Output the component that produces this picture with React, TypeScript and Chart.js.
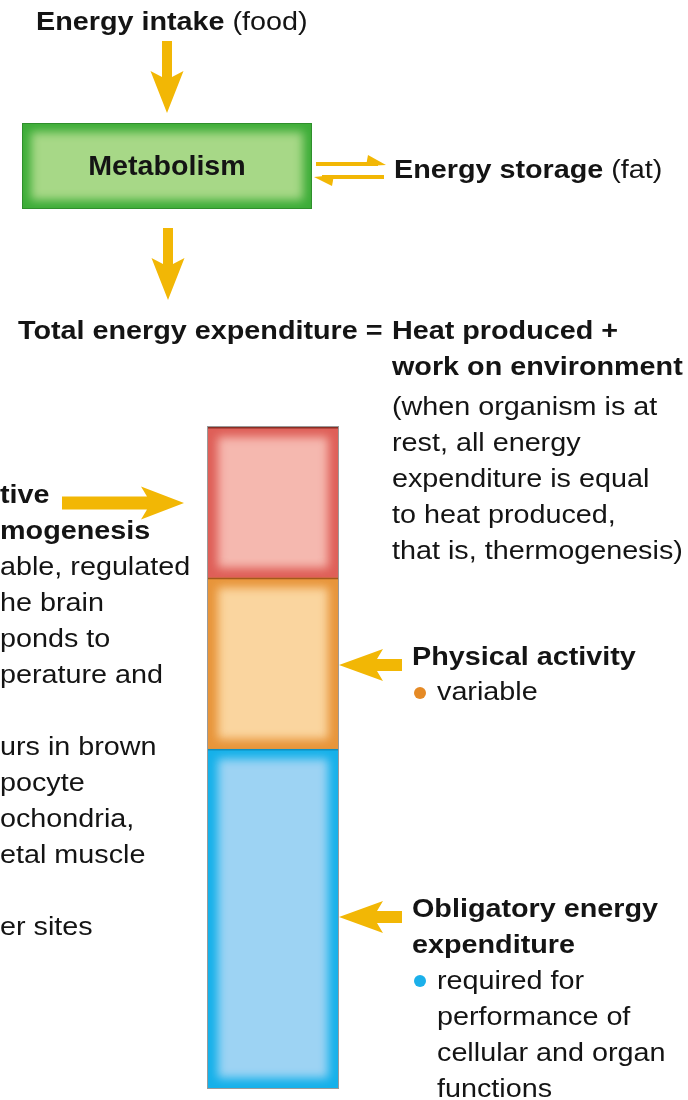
import React, { useEffect, useRef } from "react";
import { Chart, registerables } from "chart.js";

Chart.register(...registerables);

// ---- data ----
const categories = ["Total energy expenditure"];
const segmentNames = ["Obligatory energy expenditure", "Physical activity", "Adaptive thermogenesis"];
const obligatoryValues = [51.3];
const physicalValues = [25.9];
const adaptiveValues = [22.8];
const yRange = [0, 100];

const leftLines = [
  "tive",
  "mogenesis",
  "able, regulated",
  "he brain",
  "ponds to",
  "perature and",
  "",
  "urs in brown",
  "pocyte",
  "ochondria,",
  "etal muscle",
  "",
  "er sites",
];
const restLines = [
  "(when organism is at",
  "rest, all energy",
  "expenditure is equal",
  "to heat produced,",
  "that is, thermogenesis)",
];
const obligatoryLines = ["required for", "performance of", "cellular and organ", "functions"];

// ---- styles ----
const FONT = '"Liberation Sans", Arial, Helvetica, sans-serif';
const SX = 1.15;
const FS = 25;
const ARROW = "#F2B705";
const edgeColors = ["#15B1EA", "#E8953A", "#DF5F58"];
const innerColors = ["#9DD3F3", "#FAD59F", "#F5B8AF"];
const sepColors = ["#0E8FC0", "#A2581C", "#8A2E24"];

function txt(ctx: CanvasRenderingContext2D, s: string, x: number, y: number, size: number, bold: boolean, sx = SX, color = "#141414") {
  ctx.save();
  ctx.font = `${bold ? "bold " : ""}${size}px ${FONT}`;
  ctx.fillStyle = color;
  ctx.textAlign = "left";
  ctx.textBaseline = "alphabetic";
  ctx.translate(x, y);
  ctx.scale(sx, 1);
  ctx.fillText(s, 0, 0);
  const w = ctx.measureText(s).width * sx;
  ctx.restore();
  return w;
}

function arrow(ctx: CanvasRenderingContext2D, x1: number, y1: number, x2: number, y2: number, shaft: number, headW: number, headL: number) {
  const dx = x2 - x1, dy = y2 - y1;
  const len = Math.hypot(dx, dy);
  const ux = dx / len, uy = dy / len;
  const px = -uy, py = ux;
  const bx = x2 - ux * headL, by = y2 - uy * headL;
  const sweep = 6;
  ctx.save();
  ctx.fillStyle = ARROW;
  ctx.beginPath();
  ctx.moveTo(x1 + px * shaft / 2, y1 + py * shaft / 2);
  ctx.lineTo(bx + px * shaft / 2, by + py * shaft / 2);
  ctx.lineTo(bx - ux * sweep + px * headW / 2, by - uy * sweep + py * headW / 2);
  ctx.lineTo(x2, y2);
  ctx.lineTo(bx - ux * sweep - px * headW / 2, by - uy * sweep - py * headW / 2);
  ctx.lineTo(bx - px * shaft / 2, by - py * shaft / 2);
  ctx.lineTo(x1 - px * shaft / 2, y1 - py * shaft / 2);
  ctx.closePath();
  ctx.fill();
  ctx.restore();
}

function bevelRect(ctx: CanvasRenderingContext2D, l: number, t: number, w: number, h: number, edge: string, inner: string, inset: number) {
  ctx.save();
  ctx.beginPath();
  ctx.rect(l, t, w, h);
  ctx.clip();
  ctx.fillStyle = edge;
  ctx.fillRect(l, t, w, h);
  ctx.filter = "blur(5px)";
  ctx.fillStyle = inner;
  ctx.fillRect(l + inset, t + inset, w - 2 * inset, h - 2 * inset);
  ctx.restore();
}

const diagramPlugin = {
  id: "diagram",
  beforeDatasetsDraw(chart: any) {
    const ctx: CanvasRenderingContext2D = chart.ctx;
    // top block
    const w1 = txt(ctx, "Energy intake", 36, 30, FS, true);
    txt(ctx, " (food)", 36 + w1, 30, FS, false);
    arrow(ctx, 167, 41, 167, 113, 10, 33, 36);

    // metabolism box
    bevelRect(ctx, 22, 123, 290, 86, "#3DAD38", "#A7D887", 9);
    ctx.save();
    ctx.strokeStyle = "#2F8F2C";
    ctx.lineWidth = 1;
    ctx.strokeRect(22.5, 123.5, 289, 85);
    ctx.font = `bold 27px ${FONT}`;
    const mw = ctx.measureText("Metabolism").width * 1.06;
    ctx.restore();
    txt(ctx, "Metabolism", 167 - mw / 2, 175, 27, true, 1.06);

    // harpoon arrows
    ctx.save();
    ctx.fillStyle = ARROW;
    ctx.fillRect(316, 162, 62, 4);
    ctx.beginPath();
    ctx.moveTo(368, 155);
    ctx.lineTo(386, 165);
    ctx.lineTo(366, 166);
    ctx.closePath();
    ctx.fill();
    ctx.fillRect(322, 175, 62, 4);
    ctx.beginPath();
    ctx.moveTo(332, 186);
    ctx.lineTo(314, 177);
    ctx.lineTo(334, 175);
    ctx.closePath();
    ctx.fill();
    ctx.restore();
    const w2 = txt(ctx, "Energy storage", 394, 178, FS, true);
    txt(ctx, " (fat)", 394 + w2, 178, FS, false);

    arrow(ctx, 168, 228, 168, 300, 10, 33, 36);

    txt(ctx, "Total energy expenditure =", 18, 339, FS, true);
    txt(ctx, "Heat produced +", 392, 339, FS, true);
    txt(ctx, "work on environment", 392, 375, FS, true);
    restLines.forEach((s, i) => txt(ctx, s, 392, 415 + i * 36, FS, false));

    leftLines.forEach((s, i) => {
      if (s) txt(ctx, s, 0, 503 + i * 36, FS, i < 2);
    });
    arrow(ctx, 62, 503, 184, 503, 13, 33, 37);

    arrow(ctx, 402, 665, 339, 665, 12, 32, 38);
    txt(ctx, "Physical activity", 412, 665, FS, true);
    ctx.save();
    ctx.fillStyle = "#E58A25";
    ctx.beginPath();
    ctx.arc(420, 693, 6, 0, Math.PI * 2);
    ctx.fill();
    ctx.restore();
    txt(ctx, "variable", 437, 700, FS, false);

    arrow(ctx, 402, 917, 339, 917, 12, 32, 38);
    txt(ctx, "Obligatory energy", 412, 917, FS, true);
    txt(ctx, "expenditure", 412, 953, FS, true);
    ctx.save();
    ctx.fillStyle = "#1BB0EA";
    ctx.beginPath();
    ctx.arc(420, 981, 6, 0, Math.PI * 2);
    ctx.fill();
    ctx.restore();
    obligatoryLines.forEach((s, i) => txt(ctx, s, 437, 989 + i * 36, FS, false));
  },
  afterDatasetsDraw(chart: any) {
    const ctx: CanvasRenderingContext2D = chart.ctx;
    const boxes: any[] = [];
    chart.data.datasets.forEach((_: any, i: number) => {
      const meta = chart.getDatasetMeta(i);
      meta.data.forEach((el: any) => {
        const p = el.getProps(["x", "y", "base", "width"], true);
        const l = p.x - p.width / 2;
        const t = Math.min(p.y, p.base);
        const h = Math.abs(p.base - p.y);
        bevelRect(ctx, l, t, p.width, h, edgeColors[i], innerColors[i], 10);
        boxes.push({ l, t, w: p.width, h, i });
      });
    });
    ctx.save();
    boxes.forEach((b) => {
      ctx.strokeStyle = sepColors[b.i];
      ctx.lineWidth = 1.5;
      ctx.beginPath();
      ctx.moveTo(b.l, b.t + 0.75);
      ctx.lineTo(b.l + b.w, b.t + 0.75);
      ctx.stroke();
    });
    if (boxes.length) {
      const l = boxes[0].l;
      const w = boxes[0].w;
      const top = Math.min(...boxes.map((b) => b.t));
      const bottom = Math.max(...boxes.map((b) => b.t + b.h));
      ctx.strokeStyle = "#9a9a9a";
      ctx.lineWidth = 1;
      ctx.strokeRect(l - 0.5, top - 0.5, w + 1, bottom - top + 1);
    }
    ctx.restore();
  },
};

export default function App() {
  const ref = useRef<HTMLCanvasElement | null>(null);
  useEffect(() => {
    document.body.style.margin = "0";
    document.body.style.background = "#ffffff";
    if (!ref.current) return;
    const chart = new Chart(ref.current, {
      type: "bar",
      data: {
        labels: categories,
        datasets: [
          { label: segmentNames[0], data: obligatoryValues, backgroundColor: edgeColors[0], borderWidth: 0 },
          { label: segmentNames[1], data: physicalValues, backgroundColor: edgeColors[1], borderWidth: 0 },
          { label: segmentNames[2], data: adaptiveValues, backgroundColor: edgeColors[2], borderWidth: 0 },
        ],
      },
      options: {
        responsive: false,
        animation: false,
        layout: { padding: { left: 208, right: 350, top: 427, bottom: 12 } },
        plugins: { legend: { display: false }, tooltip: { enabled: false } },
        datasets: { bar: { barPercentage: 1, categoryPercentage: 1 } },
        scales: {
          x: { display: false, stacked: true },
          y: { display: false, stacked: true, min: yRange[0], max: yRange[1] },
        },
      },
      plugins: [diagramPlugin],
    } as any);
    return () => chart.destroy();
  }, []);
  return (
    <div style={{ width: 688, height: 1100, background: "#fff" }}>
      <canvas ref={ref} width={688} height={1100} style={{ display: "block" }} />
    </div>
  );
}
